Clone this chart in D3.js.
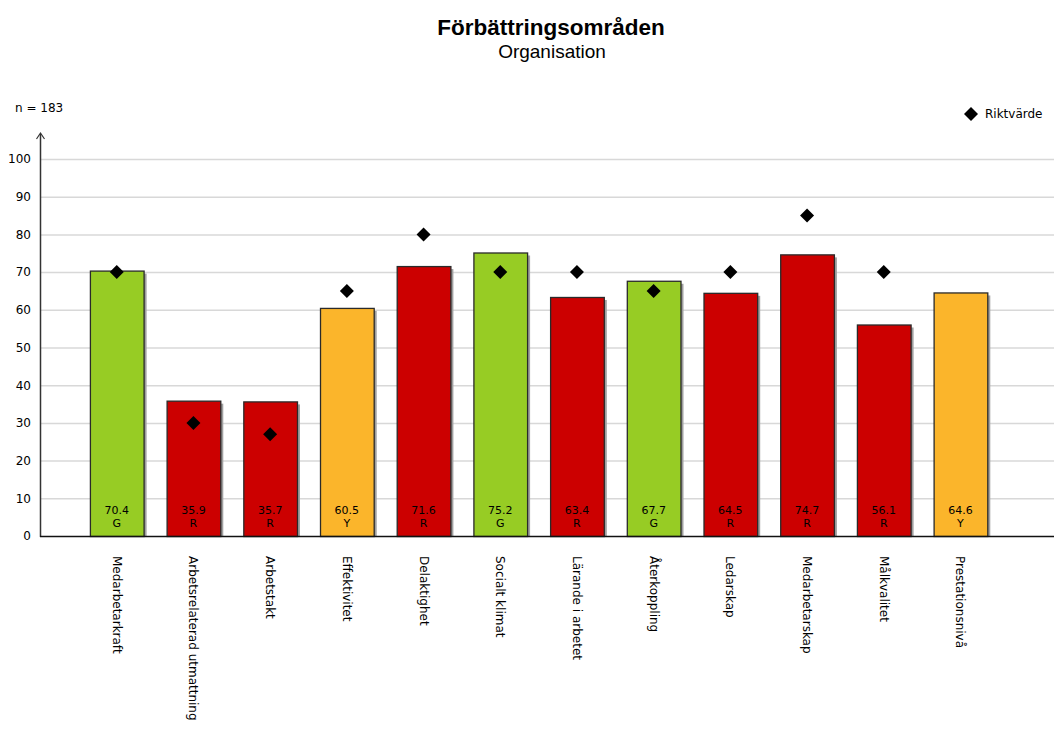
<!DOCTYPE html>
<html><head><meta charset="utf-8">
<script src="https://cdn.jsdelivr.net/npm/d3@7"></script>
<style>body{margin:0;background:#fff}text{font-family:"DejaVu Sans",Verdana,sans-serif}</style>
</head><body>
<svg id="c" width="1057" height="736"></svg>
<script>
const categories = ["Medarbetarkraft","Arbetsrelaterad utmattning","Arbetstakt","Effektivitet","Delaktighet","Socialt klimat","Lärande i arbetet","Återkoppling","Ledarskap","Medarbetarskap","Målkvalitet","Prestationsnivå"];
const values = [70.4,35.9,35.7,60.5,71.6,75.2,63.4,67.7,64.5,74.7,56.1,64.6];
const status = ["G","R","R","Y","R","G","R","G","R","R","R","Y"];
const targets = [70,30,27,65,80,70,70,65,70,85,70,null];
const yTicks = [0,10,20,30,40,50,60,70,80,90,100];
const colorMap = {G:"#97CC24",R:"#CC0000",Y:"#FBB52B"};

const svg = d3.select("#c");
const x = d3.scaleBand().domain(categories).range([78.4, 998.8]).paddingInner(0.3).paddingOuter(0.15);
const y = d3.scaleLinear().domain([0,100]).range([536,159]);
const left = 40, right = 1054;

svg.append("text").attr("x",551).attr("y",35).attr("text-anchor","middle")
  .style("font-family","Liberation Sans, Arial, sans-serif").style("font-weight","bold").style("font-size","22.5px").text("Förbättringsområden");
svg.append("text").attr("x",552).attr("y",58).attr("text-anchor","middle")
  .style("font-family","Liberation Sans, Arial, sans-serif").style("font-size","19px").text("Organisation");
svg.append("text").attr("x",15).attr("y",112).style("font-size","12px").text("n = 183");

// grid
svg.append("g").selectAll("line").data(yTicks.filter(d=>d>0)).join("line")
  .attr("x1",left).attr("x2",right).attr("y1",d=>y(d)+0.5).attr("y2",d=>y(d)+0.5)
  .attr("stroke","#d8d8d8").attr("stroke-width",1.5);

// y axis
const ya = svg.append("g").attr("transform",`translate(${left},0)`)
  .call(d3.axisLeft(y).tickValues(yTicks).tickSize(0).tickPadding(9));
ya.select(".domain").remove();
ya.selectAll("text").style("font-size","12px").style("font-family","DejaVu Sans, sans-serif").attr("fill","#000");
svg.append("line").attr("x1",left+0.5).attr("x2",left+0.5).attr("y1",134).attr("y2",537).attr("stroke","#333").attr("stroke-width",1.5);
svg.append("path").attr("d",`M${left-3.5},${139} L${left+0.5},${133} L${left+4.5},${139}`).attr("fill","none").attr("stroke","#333").attr("stroke-width",1.2);

// bars
const bw = x.bandwidth();
const g = svg.append("g");
g.selectAll("rect.sh").data(categories).join("rect").attr("class","sh")
  .attr("x",(d,i)=>x(d)+3).attr("y",(d,i)=>y(values[i])+3).attr("width",bw).attr("height",(d,i)=>y(0)-y(values[i])-3)
  .attr("fill","#a0a0a0");
g.selectAll("rect.b").data(categories).join("rect").attr("class","b")
  .attr("x",d=>x(d)+0.5).attr("y",(d,i)=>y(values[i])+0.5).attr("width",bw).attr("height",(d,i)=>y(0)-y(values[i]))
  .attr("fill",(d,i)=>colorMap[status[i]]).attr("stroke","#2a2a2a").attr("stroke-width",1.3);

// bar labels
g.selectAll("text.v").data(categories).join("text").attr("class","v")
  .attr("x",d=>x(d)+bw/2).attr("y",514).attr("text-anchor","middle").style("font-size","11px").text((d,i)=>values[i].toFixed(1));
g.selectAll("text.s").data(categories).join("text").attr("class","s")
  .attr("x",d=>x(d)+bw/2).attr("y",527).attr("text-anchor","middle").style("font-size","11px").text((d,i)=>status[i]);

// x axis
svg.append("line").attr("x1",left).attr("x2",right).attr("y1",536.5).attr("y2",536.5).attr("stroke","#111").attr("stroke-width",1.5);

// x labels
svg.append("g").selectAll("text").data(categories).join("text")
  .attr("transform",d=>`translate(${x(d)+bw/2-4},556) rotate(90)`)
  .style("font-size","12px").text(d=>d);

// targets
svg.append("g").selectAll("path").data(categories.map((c,i)=>({c,t:targets[i]})).filter(d=>d.t!=null)).join("path")
  .attr("transform",d=>`translate(${x(d.c)+bw/2},${y(d.t)}) rotate(45)`)
  .attr("d",d3.symbol().type(d3.symbolSquare).size(98)).attr("fill","#000");

// legend
svg.append("path").attr("transform","translate(971,114) rotate(45)").attr("d",d3.symbol().type(d3.symbolSquare).size(98)).attr("fill","#000");
svg.append("text").attr("x",985).attr("y",118).style("font-size","12px").text("Riktvärde");
</script>
</body></html>
